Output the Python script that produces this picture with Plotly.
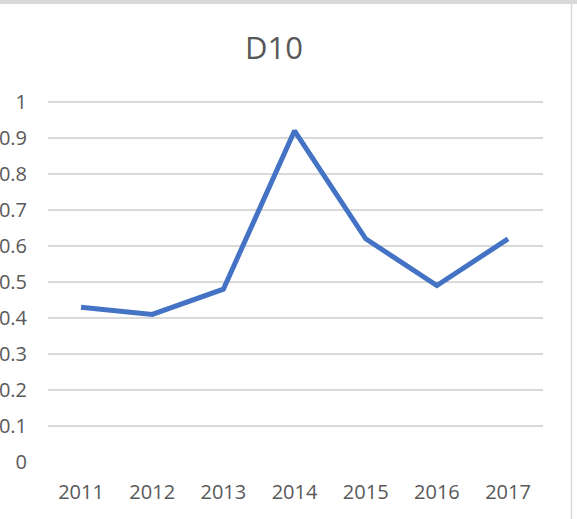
import plotly.graph_objects as go

years = ["2011", "2012", "2013", "2014", "2015", "2016", "2017"]
values = [0.43, 0.41, 0.48, 0.92, 0.62, 0.49, 0.62]
y_ticks = [0, 0.1, 0.2, 0.3, 0.4, 0.5, 0.6, 0.7, 0.8, 0.9, 1]
y_labels = ["0", "0.1", "0.2", "0.3", "0.4", "0.5", "0.6", "0.7", "0.8", "0.9", "1"]

fig = go.Figure()
fig.add_trace(go.Scatter(
    x=years, y=values, mode="lines",
    line=dict(color="#4472C4", width=5),
    hoverinfo="skip",
))

W, H = 577, 519
L, R, T, B = 48, 34, 100, 57
PW, PH = W - L - R, H - T - B
ymax = 1 + 2 / 360  # leave room so the top gridline is drawn

fig.update_layout(
    width=W, height=H,
    margin=dict(l=L, r=R, t=T, b=B, autoexpand=False),
    paper_bgcolor="white", plot_bgcolor="white",
    showlegend=False,
    font=dict(family="Open Sans", color="#595959"),
    title=dict(text="D10", x=274 / W, xanchor="center", y=1 - 48 / H, yanchor="middle",
               font=dict(size=31, color="#595959", family="Open Sans")),
    xaxis=dict(
        type="category", range=[-0.464, 6.491], showgrid=False, zeroline=False, showline=False,
        ticks="", tickfont=dict(size=20, color="#595959"),
        ticklabelstandoff=16, automargin=False,
    ),
    yaxis=dict(
        range=[0, ymax], tickvals=y_ticks, ticktext=y_labels,
        showgrid=True, gridcolor="#D9D9D9", gridwidth=1.5,
        zeroline=False, showline=False, ticks="",
        tickfont=dict(size=20, color="#595959"),
        ticklabelstandoff=20, automargin=False,
    ),
    shapes=[
        dict(type="rect", xref="paper", yref="paper",
             x0=-L / PW, x1=1 + R / PW,
             y0=1 + (T - 4) / PH, y1=1 + T / PH,
             fillcolor="#D9D9D9", line=dict(width=0), layer="above"),
        dict(type="line", xref="paper", yref="paper",
             x0=(571.5 - L) / PW, x1=(571.5 - L) / PW,
             y0=-B / PH, y1=1 + (T - 4) / PH,
             line=dict(color="#D9D9D9", width=1.5), layer="above"),
    ],
)

fig.write_html("out.html", config={"displayModeBar": False},
               post_script="document.body.style.margin='0';")
